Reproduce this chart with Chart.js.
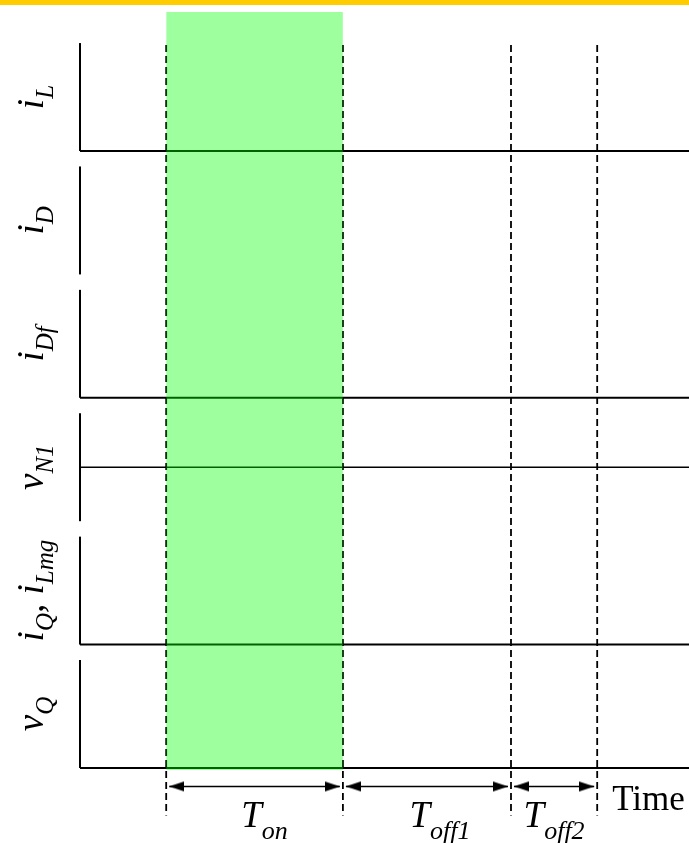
<!DOCTYPE html>
<html>
<head>
<meta charset="utf-8">
<script src="https://cdn.jsdelivr.net/npm/chart.js@4.4.1/dist/chart.umd.min.js"></script>
<style>
  html, body { margin: 0; padding: 0; background: #ffffff; }
  canvas { display: block; }
</style>
</head>
<body>
<canvas id="wave" width="689" height="843"></canvas>
<script>
// ---- Signals, top to bottom: label pieces as [text, isSubscript] ----
const signalLabels = [
  [['i', 0], ['L', 1]],
  [['i', 0], ['D', 1]],
  [['i', 0], ['Df', 1]],
  [['v', 0], ['N1', 1]],
  [['i', 0], ['Q', 1], [', i', 0], ['Lmg', 1]],
  [['v', 0], ['Q', 1]]
];
// value range of each panel's own axis
const signalRanges = [[0, 1], [0, 1], [0, 1], [-1, 1], [0, 1], [0, 1]];
// flat trace level of each signal (null = no trace drawn)
const traceLevels = [0, null, 0, 0, 0, 0];

// ---- Time axis ----
const switchTimes = [1, 3.05, 5, 6];          // turn-on, turn-off, end of Toff1, end of Toff2
const timeEnd = 7.065;
const intervalLabels = [
  [['T', 0], ['on', 1]],
  [['T', 0], ['off1', 1]],
  [['T', 0], ['off2', 1]]
];
const timeLabel = 'Time';

// ---- Layout in scale units ----
const PANEL_H = 0.875;                 // panel height, one lane = 1 unit
const X_MIN = -0.928, Y_MIN = -0.608, Y_MAX = 6.224;
const DASH_TOP = 5.86, DASH_BOTTOM = -0.385;
const ON_TOP = 6.126, ON_BOTTOM = -0.016;
const ARROW_Y = -0.15;
const LABEL_BASE_Y = -0.478;
const ARROW_INSET = 0.035;

const nLanes = signalLabels.length;
function laneValue(k, v) {
  const [lo, hi] = signalRanges[k];
  return (nLanes - 1 - k) + (v - lo) / (hi - lo) * PANEL_H;
}

// arrowhead image: tip sits at the image centre, pointing right
function makeHead(len, half) {
  const c = document.createElement('canvas');
  c.width = len * 2; c.height = Math.ceil(half * 2) + 2;
  const g = c.getContext('2d');
  const cy = c.height / 2;
  g.fillStyle = '#000';
  g.beginPath();
  g.moveTo(len, cy);
  g.lineTo(0, cy - half);
  g.lineTo(0, cy + half);
  g.closePath();
  g.fill();
  return c;
}
const head = makeHead(15, 5);

const datasets = [];

// on-interval shading, drawn over the lines
datasets.push({
  data: [{ x: switchTimes[0], y: ON_TOP }, { x: switchTimes[1], y: ON_TOP }],
  showLine: true, borderWidth: 0, pointRadius: 0,
  fill: { value: ON_BOTTOM },
  backgroundColor: 'rgba(0,255,0,0.385)'
});

// panel axes
signalRanges.forEach((r, k) => {
  datasets.push({
    data: [{ x: 0, y: laneValue(k, r[0]) }, { x: 0, y: laneValue(k, r[1]) }],
    showLine: true, borderColor: '#000', borderWidth: 2, pointRadius: 0, fill: false
  });
});

// signal traces
traceLevels.forEach((lvl, k) => {
  if (lvl === null) return;
  const bipolar = signalRanges[k][0] < 0;
  datasets.push({
    data: [{ x: 0, y: laneValue(k, lvl) }, { x: timeEnd, y: laneValue(k, lvl) }],
    showLine: true, borderColor: '#000', borderWidth: bipolar ? 1.6 : 2,
    pointRadius: 0, fill: false
  });
});

// switching instants
switchTimes.forEach(t => {
  datasets.push({
    data: [{ x: t, y: DASH_TOP }, { x: t, y: DASH_BOTTOM }],
    showLine: true, borderColor: '#000', borderWidth: 1.8, borderDash: [7, 4],
    pointRadius: 0, fill: false
  });
});

// interval arrows
intervalLabels.forEach((_, i) => {
  const a = switchTimes[i] + ARROW_INSET, b = switchTimes[i + 1] - ARROW_INSET;
  datasets.push({
    data: [{ x: a, y: ARROW_Y }, { x: b, y: ARROW_Y }],
    showLine: true, borderColor: '#000', borderWidth: 1.6, fill: false,
    pointRadius: 5, pointStyle: head, pointRotation: [180, 0]
  });
});

const SERIF = '"Liberation Serif", "Times New Roman", serif';

function richWidth(ctx, parts, big, small) {
  let w = 0;
  parts.forEach(([t, sub]) => {
    ctx.font = 'italic ' + (sub ? small : big) + 'px ' + SERIF;
    w += ctx.measureText(t).width;
  });
  return w;
}
function drawRich(ctx, parts, x, y, big, small, shift) {
  let cx = x;
  parts.forEach(([t, sub]) => {
    ctx.font = 'italic ' + (sub ? small : big) + 'px ' + SERIF;
    ctx.fillText(t, cx, sub ? y + shift : y);
    cx += ctx.measureText(t).width;
  });
}

const annotate = {
  id: 'annotate',
  beforeDraw(chart) {
    const ctx = chart.ctx;
    ctx.save();
    ctx.fillStyle = '#ffcc00';
    ctx.fillRect(0, 0, chart.width, 5);
    ctx.restore();
  },
  afterDraw(chart) {
    const ctx = chart.ctx, xs = chart.scales.x, ys = chart.scales.y;
    ctx.save();
    ctx.fillStyle = '#000';
    ctx.textBaseline = 'alphabetic';
    ctx.textAlign = 'left';
    // panel names, rotated
    signalLabels.forEach((parts, k) => {
      const cy = ys.getPixelForValue((nLanes - 1 - k) + PANEL_H / 2);
      const w = richWidth(ctx, parts, 37, 25);
      ctx.save();
      ctx.translate(xs.getPixelForValue(0) - 37, cy);
      ctx.rotate(-Math.PI / 2);
      drawRich(ctx, parts, -w / 2, 0, 37, 25, 10);
      ctx.restore();
    });
    // interval names
    const nudge = [10, 13, 0];
    const by = ys.getPixelForValue(LABEL_BASE_Y);
    intervalLabels.forEach((parts, i) => {
      const mid = xs.getPixelForValue((switchTimes[i] + switchTimes[i + 1]) / 2);
      const w = richWidth(ctx, parts, 37, 26);
      drawRich(ctx, parts, mid - w / 2 + nudge[i], by, 37, 26, 12);
    });
    // time axis name
    ctx.font = '35px ' + SERIF;
    ctx.fillText(timeLabel, xs.getPixelForValue(switchTimes[3]) + 15, ys.getPixelForValue(ARROW_Y) + 24);
    ctx.restore();
  }
};

new Chart(document.getElementById('wave'), {
  type: 'scatter',
  data: { datasets },
  options: {
    responsive: false,
    animation: false,
    events: [],
    layout: { padding: 0, autoPadding: false },
    plugins: { legend: { display: false }, tooltip: { enabled: false } },
    scales: {
      x: { type: 'linear', display: false, min: X_MIN, max: timeEnd },
      y: { type: 'linear', display: false, min: Y_MIN, max: Y_MAX }
    }
  },
  plugins: [annotate]
});
</script>
</body>
</html>
